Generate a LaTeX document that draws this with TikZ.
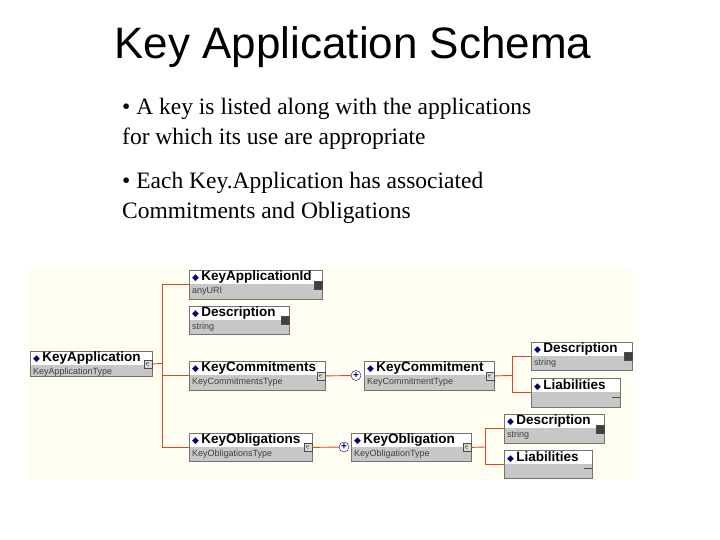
\documentclass[tikz,border=0pt]{standalone}
\usepackage{fontspec}
\setmainfont{Liberation Serif}
\setsansfont{Liberation Sans}
\newfontfamily\djv{DejaVu Sans}
\usetikzlibrary{calc}
\begin{document}
\begin{tikzpicture}[x=1pt,y=-1pt,
  elem/.style={draw=black!55,fill=white,line width=0.8pt,anchor=north west,inner sep=0pt,
    path picture={\fill[black!22] ([yshift=-14pt]path picture bounding box.north west) rectangle (path picture bounding box.south east);}},
  ttl/.style={anchor=west,font=\sffamily\bfseries\fontsize{13.5}{13.5}\selectfont,inner sep=0pt},
  typ/.style={anchor=west,font=\sffamily\fontsize{9}{9}\selectfont,text=black!75,inner sep=0pt},
  ico/.style={draw=black!70,fill=black!15,minimum width=8pt,minimum height=8pt,inner sep=0pt,line width=0.6pt},
  link/.style={draw=red!45!brown,line width=0.9pt},
  plus/.style={circle,draw=blue!50!black,fill=white,inner sep=0pt,minimum size=10pt,font=\sffamily\bfseries\fontsize{10}{10}\selectfont,text=blue!50!black}]
\useasboundingbox (0,0) rectangle (720,540);
\fill[yellow!6] (28,268) rectangle (633,480);
\node[font=\sffamily\fontsize{44}{44}\selectfont] (title) at (353,47) {Key Application Schema};
\node[anchor=north west,align=left,font=\fontsize{23.5}{30}\selectfont,inner sep=0pt] (b1) at (122,98) {• A key is listed along with the applications\\for which its use are appropriate};
\node[anchor=north west,align=left,font=\fontsize{23.5}{30}\selectfont,inner sep=0pt] (b2) at (122,172) {• Each Key.Application has associated\\Commitments and Obligations};
\newcommand\xbox[7]{%
  \node[elem,minimum width=#4pt,minimum height=#5pt] (#1) at (#2,#3) {};
  \node[ttl] at ($(#1.north west)+(3,7.5)$) {{\djv\color{blue!45!black}\fontsize{9}{9}\selectfont ◆}\,#6};
  \node[typ] at ($(#1.north west)+(3,21)$) {#7};}
\xbox{ka}{30}{351}{122}{25}{KeyApplication}{KeyApplicationType}
\xbox{kid}{189}{270}{133}{29}{KeyApplicationId}{anyURI}
\xbox{d1}{189}{306}{100}{28}{Description}{string}
\xbox{kcs}{189}{361}{136}{29}{KeyCommitments}{KeyCommitmentsType}
\xbox{kos}{189}{433}{123}{28}{KeyObligations}{KeyObligationsType}
\xbox{kc}{364}{361}{130}{29}{KeyCommitment}{KeyCommitmentType}
\xbox{d2}{531}{342}{101}{28}{Description}{string}
\xbox{l1}{531}{378}{89}{29}{Liabilities}{}
\xbox{ko}{351}{433}{120}{28}{KeyObligation}{KeyObligationType}
\xbox{d3}{504}{414}{100}{29}{Description}{string}
\xbox{l2}{504}{450}{88}{28}{Liabilities}{}
% icons
\foreach \n in {ka,kcs,kos,kc,ko}{\node[ico] (i\n) at ($(\n.east)+(-5,0)$) {\tiny$\in$};}
\foreach \n in {kid,d1,d2,d3}{\node[ico,fill=black!75] (i\n) at ($(\n.east)+(-5,0)$) {};}
\foreach \n in {l1,l2}{\node[ico,draw=none,fill=none] (i\n) at ($(\n.east)+(-5,0)$) {};
  \draw[black!70,line width=0.8pt] (i\n.south west) -- (i\n.south east);}
% connectors
\coordinate (j1) at (162,363.5);
\draw[link] (ika.east) -- (j1);
\draw[link] (j1 |- kid.west) -- (kid.west);
\draw[link] (j1 |- kos.west) -- (kos.west);
\draw[link] (j1 |- kid.west) -- (j1 |- kos.west);
\draw[link] (j1 |- kcs.west) -- (kcs.west);
\node[plus] (p1) at (356,375.5) {+};
\node[plus] (p2) at (344,447) {+};
\draw[link] (ikcs.east) -- (p1);
\draw[link] (ikos.east) -- (p2);
\coordinate (j2) at (512,375.5);
\draw[link] (ikc.east) -- (j2);
\draw[link] (j2 |- d2.west) -- (d2.west);
\draw[link] (j2 |- l1.west) -- (l1.west);
\draw[link] (j2 |- d2.west) -- (j2 |- l1.west);
\coordinate (j3) at (485,447);
\draw[link] (iko.east) -- (j3);
\draw[link] (j3 |- d3.west) -- (d3.west);
\draw[link] (j3 |- l2.west) -- (l2.west);
\draw[link] (j3 |- d3.west) -- (j3 |- l2.west);
\end{tikzpicture}
\end{document}
